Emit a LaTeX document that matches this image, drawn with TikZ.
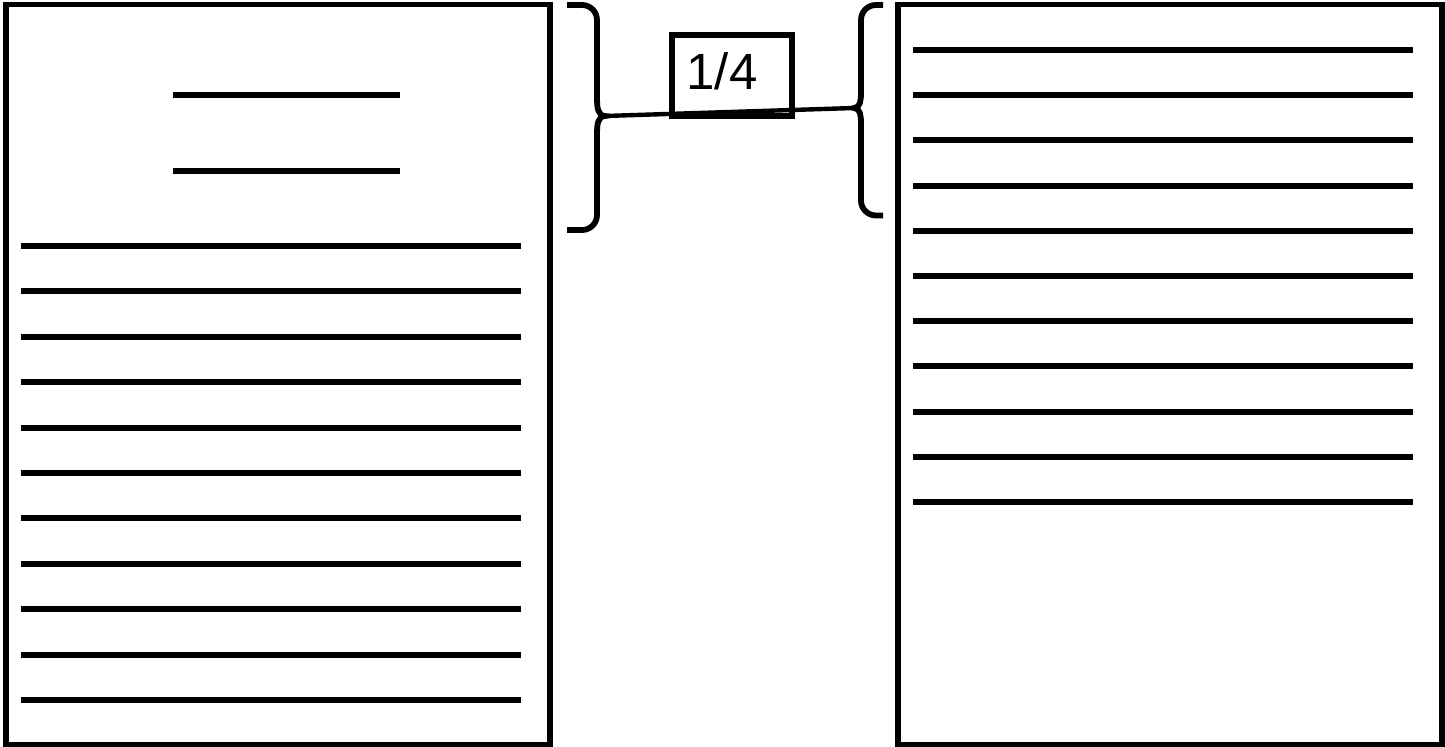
\documentclass[tikz,border=0pt]{standalone}
\usepackage{fontspec}
\setmainfont{Liberation Sans}
\usepackage{tikz}
\usetikzlibrary{positioning, calc}

\begin{document}
\begin{tikzpicture}[x=0.02cm, y=-0.02cm,
    page/.style={draw, line width=3.3pt, minimum width=10.88cm, minimum height=14.8cm, inner sep=0pt},
    txt/.style={line width=3.4pt},
    brc/.style={line width=3.3pt, rounded corners=0.3cm},
    frac/.style={draw, line width=3.3pt, minimum width=2.4cm, minimum height=1.62cm, inner sep=0pt,
        font=\fontsize{29}{34}\selectfont}]
    \useasboundingbox (0,0) rectangle (1445,747);
    \node[page] (lpage) at (278.2,374.5) {};
    \node[page] (rpage) at (1170,374.5) {};
    % title lines
    \foreach \y in {95,171} {
        \draw[txt] (173,\y) -- (400,\y);
    }
    % body lines
    \foreach \k in {0,...,10} {
        \draw[txt] (21,246+45.4*\k) -- (521,246+45.4*\k);
        \draw[txt] (913,50+45.2*\k) -- (1413,50+45.2*\k);
    }
    % braces
    \coordinate (lb) at (605,116);
    \coordinate (rb) at (854,108);
    \draw[brc] (567,5) -- (597,5) -- (597,100);
    \draw[line width=3.3pt] (597,100) to[out=-90,in=180] (lb) to[out=180,in=90] (597,132);
    \draw[brc] (597,132) -- (597,230) -- (567,230);
    \draw[brc] (883,5) -- (861,5) -- (861,93);
    \draw[line width=3.3pt] (861,93) to[out=-90,in=0] (rb) to[out=0,in=90] (861,123);
    \draw[brc] (861,123) -- (861,215.5) -- (883,215.5);
    \node[frac] (q) at (732,75.5) {\raisebox{0.18cm}{1/4}\kern0.4cm};
    \draw[line width=2.5pt] (lb) -- (rb);
\end{tikzpicture}
\end{document}
